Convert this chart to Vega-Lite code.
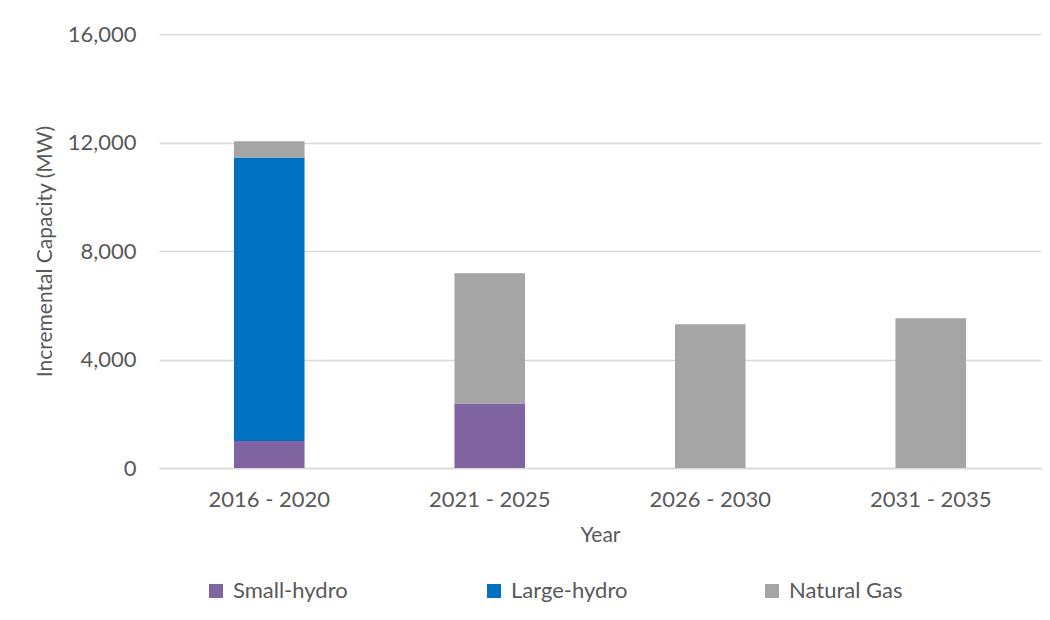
{
  "$schema": "https://vega.github.io/schema/vega-lite/v6.json",
  "width": 882,
  "height": 434,
  "autosize": {"type": "none"},
  "padding": {"left": 159, "top": 34, "right": 9, "bottom": 152},
  "background": "white",
  "config": {
    "font": "Lato",
    "view": {"stroke": null},
    "axis": {"labelColor": "#595959", "titleColor": "#595959", "labelFont": "Lato", "titleFont": "Lato", "titleFontWeight": "normal"},
    "legend": {"labelFont": "Lato", "labelColor": "#595959"}
  },
  "data": {
    "values": [
      {"period": "2016 - 2020", "type": "Small-hydro", "mw": 1000},
      {"period": "2016 - 2020", "type": "Large-hydro", "mw": 10450},
      {"period": "2016 - 2020", "type": "Natural Gas", "mw": 600},
      {"period": "2021 - 2025", "type": "Small-hydro", "mw": 2380},
      {"period": "2021 - 2025", "type": "Natural Gas", "mw": 4800},
      {"period": "2026 - 2030", "type": "Natural Gas", "mw": 5300},
      {"period": "2031 - 2035", "type": "Natural Gas", "mw": 5520}
    ]
  },
  "transform": [
    {"calculate": "indexof(['Small-hydro', 'Large-hydro', 'Natural Gas'], datum.type)", "as": "stackOrder"}
  ],
  "mark": {"type": "bar"},
  "encoding": {
    "x": {
      "field": "period", "type": "nominal", "title": "Year",
      "scale": {"paddingInner": 0.68, "paddingOuter": 0.34},
      "axis": {"labelAngle": 0, "labelFontSize": 22, "titleFontSize": 21, "labelPadding": 21, "titlePadding": 14, "ticks": false, "domainColor": "#d9d9d9", "domainWidth": 1.5}
    },
    "y": {
      "field": "mw", "type": "quantitative", "aggregate": "sum", "stack": "zero",
      "title": "Incremental Capacity (MW)",
      "scale": {"domain": [0, 16000]},
      "axis": {"values": [0, 4000, 8000, 12000, 16000], "format": ",d", "labelFontSize": 22, "titleFontSize": 21, "labelPadding": 23, "titlePadding": 12, "ticks": false, "domain": false, "gridColor": "#d9d9d9", "gridWidth": 1.5}
    },
    "order": {"field": "stackOrder", "type": "quantitative", "sort": "ascending"},
    "color": {
      "field": "type", "type": "nominal",
      "sort": ["Small-hydro", "Large-hydro", "Natural Gas"],
      "scale": {"domain": ["Small-hydro", "Large-hydro", "Natural Gas"], "range": ["#8064a2", "#0070c0", "#a5a5a5"]},
      "legend": {
        "title": null, "orient": "none", "direction": "horizontal", "columns": 3,
        "legendX": 46, "legendY": 546, "symbolType": "square", "symbolSize": 196,
        "symbolStrokeWidth": 0, "labelFontSize": 22, "labelOffset": 6,
        "columnPadding": 133, "gridAlign": "all", "labelLimit": 200
      }
    }
  }
}
